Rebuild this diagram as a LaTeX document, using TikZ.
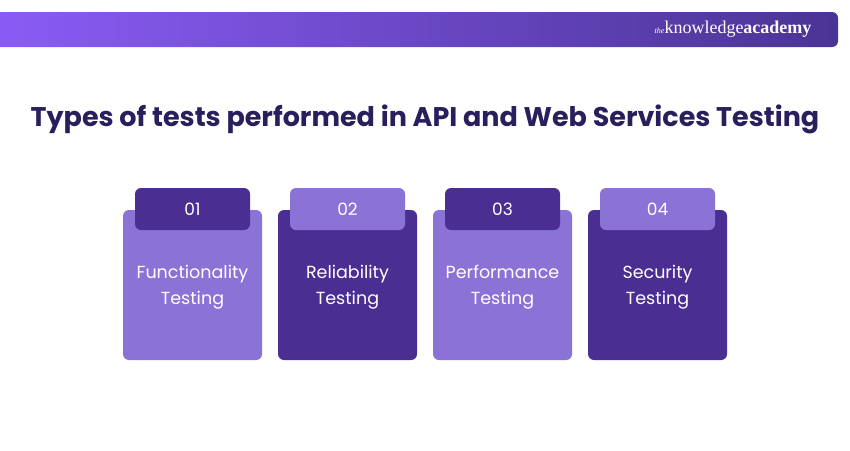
\documentclass[tikz,border=0pt]{standalone}
\usepackage{fontspec}
\setmainfont{Poppins}
\newfontfamily\logofont{Liberation Serif}
\begin{document}
\begin{tikzpicture}[x=1pt,y=-1pt,
  card/.style={rounded corners=6pt},
  lab/.style={text=white,font=\fontsize{17.5}{25.5}\selectfont,align=center},
  num/.style={text=white,font=\fontsize{17}{19}\selectfont}]
\definecolor{lightp}{HTML}{8A72D6}
\definecolor{darkp}{HTML}{4B2E92}
\definecolor{navy}{HTML}{2A1F5C}
\definecolor{bl}{HTML}{8B5CF6}
\definecolor{br}{HTML}{4A3494}
\useasboundingbox (0,0) rectangle (850,450);
\fill[white] (0,0) rectangle (850,450);
\shade[left color=bl,right color=br,rounded corners=6pt] (-10,12) rectangle (838,47);
\node[text=white,anchor=east,font=\logofont\fontsize{18}{20}\selectfont] (logo) at (815,29) {{\itshape\footnotesize the}knowledge\textbf{academy}};
\node[text=navy,font=\fontsize{27}{32}\selectfont\bfseries] (title) at (425,119.5) {Types of tests performed in API and Web Services Testing};
\foreach \i/\x/\cc/\tc/\n/\t in {1/123/lightp/darkp/01/{Functionality\\Testing},2/278/darkp/lightp/02/{Reliability\\Testing},3/433/lightp/darkp/03/{Performance\\Testing},4/588/darkp/lightp/04/{Security\\Testing}}{
  \fill[\cc,card] (\x,210) rectangle +(139,150);
  \fill[\tc,card] (\x+12,188) rectangle +(115,42);
  \node[num] (n\i) at (\x+69.5,209) {\n};
  \node[lab] (l\i) at (\x+69.5,287) {\t};
}
\end{tikzpicture}
\end{document}
